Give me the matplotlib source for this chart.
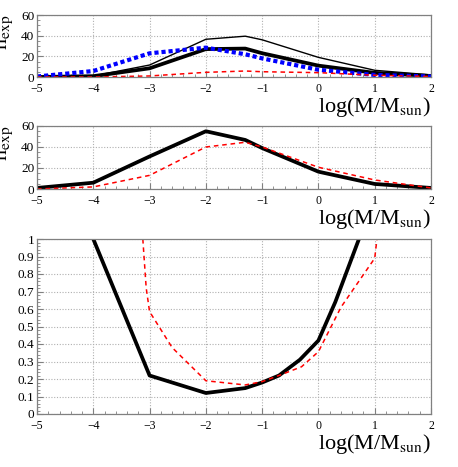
import matplotlib
matplotlib.use("Agg")
import matplotlib.pyplot as plt
from matplotlib.ticker import MultipleLocator, FuncFormatter

plt.rcParams['font.family'] = ['Liberation Serif', 'DejaVu Serif']
plt.rcParams['mathtext.fontset'] = 'stix'

# ---- data ----
x_top = [-5, -4, -3, -2, -1.3, -1, 0, 1, 2]
top_thin_black = [0, 1, 11.6, 36.5, 39.5, 36, 19, 6.5, 2]
top_thick_black = [0, 0.8, 8.4, 27, 27.5, 23, 11, 4, 1]
top_blue = [0.5, 5.8, 22.9, 28.4, 22, 18, 7, 2, 0.5]
top_red = [0, 0, 1, 4.5, 5.8, 5.1, 4.2, 1.7, 0.5]

x_mid = [-5, -4, -3, -2, -1.3, -1, 0, 1, 2]
mid_black = [1, 6, 31, 55, 46.7, 39, 16.5, 4.8, 1]
mid_red = [0, 2, 13, 40, 44.5, 40, 20.7, 8.6, 1]

x_bot_black = [-4, -3, -2, -1.3, -1, -0.7, -0.33, 0, 0.3, 0.72]
bot_black = [1.0, 0.22, 0.12, 0.148, 0.18, 0.22, 0.31, 0.42, 0.64, 1.0]
x_bot_red = [-3.12, -3.06, -3.0, -2.6, -2.0, -1.3, -1.0, -0.7, -0.3, 0.0, 0.4, 1.0, 1.04]
bot_red = [1.0, 0.72, 0.585, 0.38, 0.19, 0.166, 0.185, 0.22, 0.27, 0.356, 0.61, 0.89, 1.0]

xticks = [-5, -4, -3, -2, -1, 0, 1, 2]

W, H = 458, 467
fig = plt.figure(figsize=(W / 100, H / 100), dpi=100)

def axbox(top, bottom, left=37, right=431):
    return [left / W, 1 - bottom / H, (right - left) / W, (bottom - top) / H]

ax1 = fig.add_axes(axbox(15, 77))
ax2 = fig.add_axes(axbox(126, 189))
ax3 = fig.add_axes(axbox(239, 414))

frame_col = '#808080'
grid_col = '#b0b0b0'

def style(ax, yticks, ymin, ymax, yminor):
    ax.set_xlim(-5, 2)
    ax.set_ylim(ymin, ymax)
    ax.set_xticks(xticks)
    ax.set_yticks(yticks)
    ax.xaxis.set_minor_locator(MultipleLocator(0.2))
    ax.yaxis.set_minor_locator(MultipleLocator(yminor))
    ax.yaxis.set_major_formatter(FuncFormatter(lambda v, p: '%g' % v))
    ax.grid(True, which='major', color=grid_col, linestyle=(0, (1, 1.5)), linewidth=0.8)
    for s in ax.spines.values():
        s.set_color(frame_col)
        s.set_linewidth(0.9)
    ax.tick_params(which='both', direction='in', color=frame_col, top=False, right=False)
    ax.tick_params(which='major', length=4, width=0.8)
    ax.tick_params(which='minor', length=2, width=0.6)
    ax.tick_params(axis='x', labelsize=8.5, pad=4)
    ax.tick_params(axis='y', labelsize=9.5, pad=2)
    ax.annotate('log(M/M$_{\\mathrm{sun}}$)', xy=(1, 0), xycoords='axes fraction',
                xytext=(0, -13), textcoords='offset points', ha='right', va='top',
                fontsize=16)

thick = 2.7
thin = 1.0
red_ls = dict(color='#ff0000', linewidth=1.1, dashes=(3, 2.5))

ax1.plot(x_top, top_thin_black, color='black', linewidth=thin)
ax1.plot(x_top, top_thick_black, color='black', linewidth=thick)
ax1.plot(x_top, top_blue, color='#0000ff', linewidth=3.0, dashes=(1, 0.7), dash_capstyle='butt')
ax1.plot(x_top, top_red, **red_ls)
style(ax1, [0, 20, 40, 60], 0, 60, 5)

ax2.plot(x_mid, mid_black, color='black', linewidth=thick)
ax2.plot(x_mid, mid_red, **red_ls)
style(ax2, [0, 20, 40, 60], 0, 60, 5)

ax3.plot(x_bot_black, bot_black, color='black', linewidth=thick)
ax3.plot(x_bot_red, bot_red, **red_ls)
style(ax3, [i / 10 for i in range(11)], 0, 1, 0.02)

for ax in (ax1, ax2):
    ax.annotate('n$_{\\mathrm{exp}}$', xy=(0, 1), xycoords='axes fraction',
                xytext=(-16, 0), textcoords='offset points', ha='right', va='top',
                rotation=90, fontsize=16, annotation_clip=False)
ax3.annotate('P', xy=(0, 1), xycoords='axes fraction',
             xytext=(-24, 2), textcoords='offset points', ha='right', va='top',
             rotation=90, fontsize=16, annotation_clip=False)

fig.savefig('out.png', dpi=100)
